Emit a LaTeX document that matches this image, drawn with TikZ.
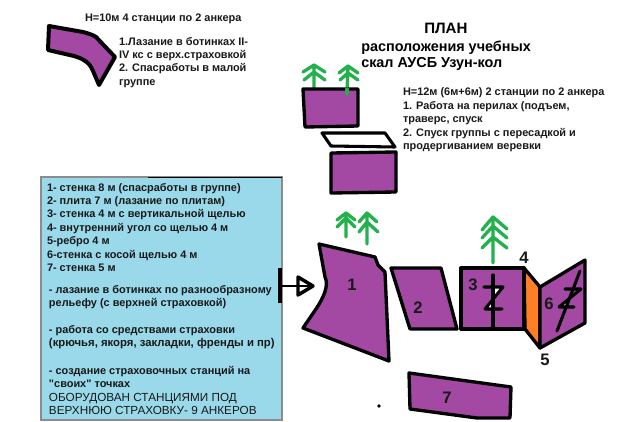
\documentclass[tikz,border=0pt]{standalone}
\usepackage{fontspec}
\setmainfont{Liberation Sans}
\newfontfamily\straightq{Liberation Sans}[Ligatures=ResetAll,Mapping=]
\definecolor{rock}{RGB}{163,73,164}
\definecolor{pine}{RGB}{34,177,76}
\definecolor{inner}{RGB}{255,127,39}
\definecolor{panel}{RGB}{153,217,234}
\tikzset{
  rockface/.style={draw=black,fill=rock,line width=2.5pt,line join=round,line cap=round},
  ink/.style={draw=black,line width=2.3pt,line cap=round,line join=round},
  pineline/.style={draw=pine,line width=2.5pt,line cap=round,line join=round},
  txt/.style={font=\bfseries\fontsize{8.2}{10.1}\selectfont,align=left,anchor=north west,inner sep=0pt,outer sep=0pt,text=black!90},
  caps/.style={font=\fontsize{8.8}{10.1}\selectfont,align=left,anchor=north west,inner sep=0pt,outer sep=0pt,text=black!90},
  num/.style={font=\bfseries\fontsize{12.5}{14}\selectfont,inner sep=0pt,text=black!90},
}
\begin{document}
\begin{tikzpicture}[x=0.75pt,y=-0.75pt]
\useasboundingbox (0,0) rectangle (619,422);
\fill[white] (0,0) rectangle (619,422);
% panel
\filldraw[fill=panel,draw=black!45,line width=0.8pt] (41,177) rectangle (282,420);
\draw[black,line width=0.7pt] (148,177) -- (282,177);
% top-left rock
\path[rockface,line width=3pt] (49,26) -- (83,32) .. controls (90,34) and (93,35) .. (96,37) -- (115,57) -- (99,85) -- (93,71) .. controls (90,63) and (84,59) .. (74,56) -- (48,50) -- cycle;
% texts top
\node[txt] (h10) at (85,13.5) {H=10м 4 станции по 2 анкера};
\node[txt] (list10) at (119,37) {1.Лазание в ботинках II-\\IV кс с верх.страховкой\\2. Спасработы в малой\\группе};
\node[font=\bfseries\fontsize{11.3}{12}\selectfont,anchor=north west,inner sep=0pt] (plan) at (424,23) {ПЛАН};
\node[font=\bfseries\fontsize{10.8}{12}\selectfont,anchor=north west,inner sep=0pt,align=left] (title) at (361,40.5) {расположения учебных\\скал АУСБ Узун-кол};
\node[txt] (h12) at (403,88) {H=12м (6м+6м) 2 станции по 2 анкера\\1. Работа на перилах (подъем,\\траверс, спуск\\2. Спуск группы с пересадкой и\\продергиванием веревки};
% upper trees and boxes
\path[pineline] (314,65) -- (314,88) (303,72) -- (314,65) -- (325,72) (304,80) -- (314,72) -- (325,80);
\path[pineline] (348,66) -- (347,94) (339,73) -- (348,66) -- (358,73) (340,80) -- (348,73) -- (358,80);
\path[rockface] (303,89) -- (358,89) -- (358,126) -- (305,127) -- cycle;
\path[pineline] (347,89) -- (347,94);
\path[ink,fill=white] (322,133) -- (385,133) -- (395,147) -- (331,146) -- cycle;
\path[rockface] (331,153) -- (396,152) -- (396,192) -- (331,193) -- cycle;
% lower trees
\path[pineline] (346,213) -- (346,237) (337,220) -- (346,213) -- (355,220) (337,227) -- (346,218) -- (355,227);
\path[pineline] (367,213) -- (367,244) (359,222) -- (367,213) -- (377,222) (359,232) -- (367,222) -- (378,232);
\path[pineline] (493,217) -- (493,263) (482,230) -- (493,217) -- (507,229) (482,238) -- (493,226) -- (507,238) (482,248) -- (493,237) -- (507,248);
% faces
\path[rockface] (319,244) -- (375,257) -- (378,265) -- (385,272) -- (389,361) -- (303,328) -- (316,309) .. controls (324,297) and (329,285) .. (325,277) -- cycle;
\path[rockface] (391,268) -- (441,268) -- (457,329) -- (410,329) -- cycle;
\path[rockface] (461,268) -- (524,268) -- (524,329) -- (461,329) -- cycle;
\path[rockface,fill=inner] (524,268) -- (540,287) -- (540,348) -- (525,329) -- cycle;
\path[rockface] (540,287) -- (585,260) -- (585,323) -- (540,348) -- cycle;
\path[rockface] (409,373) -- (511,387) -- (510,418) -- (477,418) -- (410,409) -- cycle;
% crack 3
\fill[white] (493,288) -- (503,288) -- (493,298) -- cycle;
\fill[white] (493,299) -- (493,309) -- (486,309) -- cycle;
\path[ink] (493,275) -- (493,328);
\path[ink] (484,287) -- (503,287) -- (485,309) -- (502,309);
% crack 6
\fill[white] (561,307) -- (568,301) -- (567,307) -- cycle;
\path[ink] (580,271) -- (557,331);
\path[ink] (565,289) -- (581,289) -- (559,307) -- (574,307);
% arrow
\path[draw=black,line width=2.6pt] (280,268) -- (280,303);
\path[draw=black,line width=2pt] (280,286) -- (313,286);
\path[draw=black,line width=2.6pt,line join=round] (298,277) -- (313,286) -- (298,295) -- cycle;
% dot
\fill[black] (379,406) circle (1.8);
% numbers
\node[num] (n1) at (352,285) {1};
\node[num] (n2) at (418,308) {2};
\node[num] (n3) at (473,285) {3};
\node[num] (n4) at (524,258) {4};
\node[num] (n5) at (545,360) {5};
\node[num] (n6) at (549,304) {6};
\node[num] (n7) at (447,398) {7};
% panel texts
\node[txt] (legend) at (47,183) {1- стенка 8 м (спасработы в группе)\\2- плита 7 м (лазание по плитам)\\3- стенка 4 м с вертикальной щелью\\4- внутренний угол со щелью 4 м\\5-ребро 4 м\\6-стенка с косой щелью 4 м\\7- стенка 5 м};
\node[txt] (p1) at (49,285) {- лазание в ботинках по разнообразному\\рельефу (с верхней страховкой)};
\node[txt] (p2) at (49,325.5) {- работа со средствами страховки\\\fontsize{8.5}{10.1}\selectfont (крючья, якоря, закладки, френды и пр)};
\node[txt] (p3) at (49,366) {- создание страховочных станций на\\{\straightq "}своих{\straightq "} точках};
\node[caps] (p4) at (49,393) {ОБОРУДОВАН СТАНЦИЯМИ ПОД\\ВЕРХНЮЮ СТРАХОВКУ- 9 АНКЕРОВ};
\end{tikzpicture}
\end{document}
